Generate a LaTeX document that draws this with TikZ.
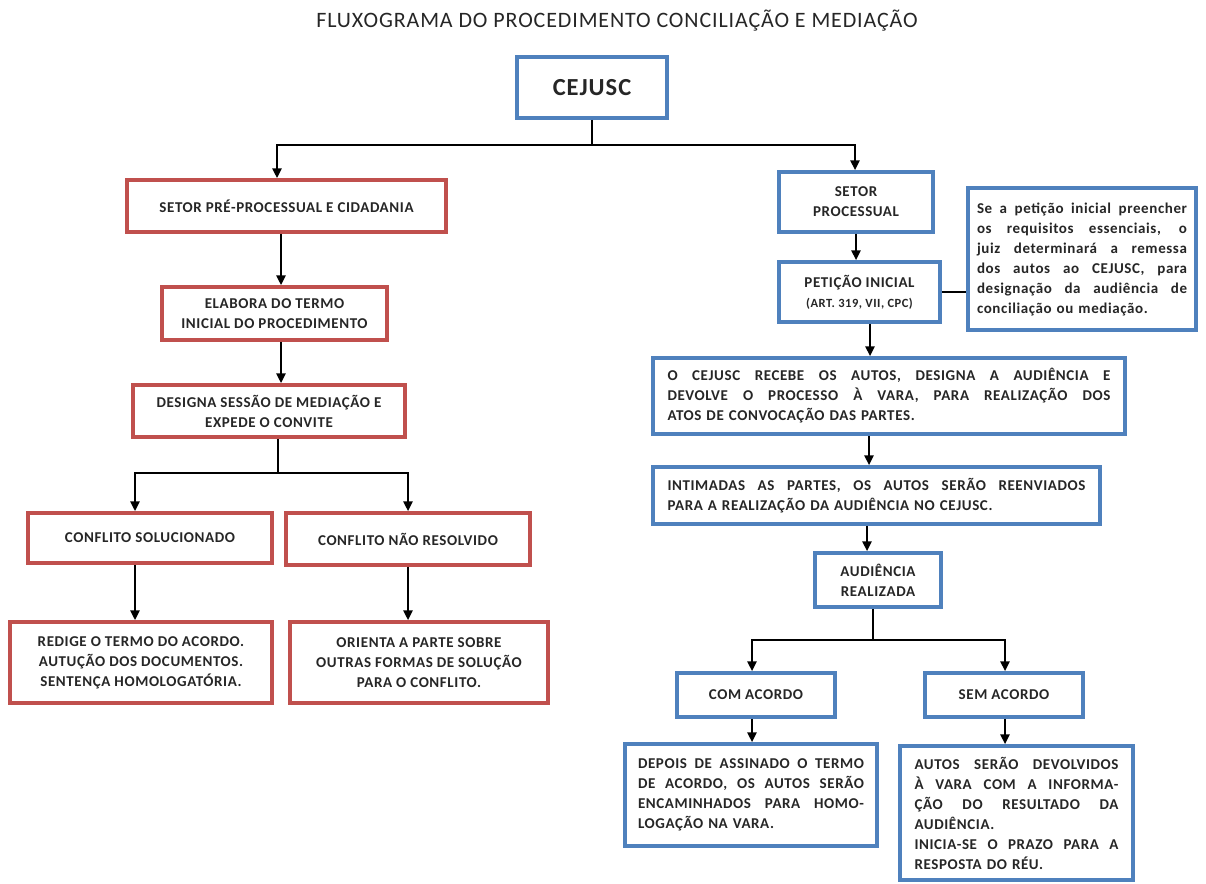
\documentclass[tikz,border=0pt]{standalone}
\usepackage{fontspec}
\setmainfont{Carlito}[LetterSpace=4]
\usetikzlibrary{arrows.meta}
\definecolor{boxred}{HTML}{C0504D}
\definecolor{boxblue}{HTML}{4F81BD}
\definecolor{txt}{HTML}{262626}
\newcommand{\jl}[1]{{\spaceskip=0pt\xspaceskip=0pt\makebox[\hsize][s]{#1}}}
\begin{document}
\begin{tikzpicture}[x=1pt,y=-1pt,
  base/.style={line width=3.5pt, fill=white, inner sep=0pt, align=center, text=txt,
    font=\bfseries\fontsize{15}{20}\selectfont},
  redbox/.style={base, draw=boxred},
  bluebox/.style={base, draw=boxblue},
  jbox/.style={bluebox, align=left, inner xsep=14.5pt, inner ysep=0pt},
  arr/.style={-{Triangle[length=10pt,width=9pt]}, line width=2.6pt},
  link/.style={line width=1.3pt}]
\useasboundingbox (0,0) rectangle (1206,883);
\fill[white] (0,0) rectangle (1206,883);

\node[text=txt, font=\fontsize{22}{26}\selectfont] (title) at (617,21)
  {FLUXOGRAMA DO PROCEDIMENTO CONCILIAÇÃO E MEDIAÇÃO};

\node[bluebox, minimum width=150pt, minimum height=61pt, font=\bfseries\fontsize{24.5}{28}\selectfont] (cejusc) at (592,87.5) {CEJUSC};

% left column
\node[redbox, minimum width=319pt, minimum height=52pt] (pre) at (286.5,206) {SETOR PRÉ-PROCESSUAL E CIDADANIA};
\node[redbox, minimum width=225pt, minimum height=53pt] (elab) at (274.5,313.5) {ELABORA DO TERMO\\INICIAL DO PROCEDIMENTO};
\node[redbox, minimum width=272pt, minimum height=52pt] (desig) at (269,411) {DESIGNA SESSÃO DE MEDIAÇÃO E\\EXPEDE O CONVITE};
\node[redbox, minimum width=244pt, minimum height=50pt] (sol) at (150,538) {CONFLITO SOLUCIONADO};
\node[redbox, minimum width=244pt, minimum height=52pt] (nres) at (408,539) {CONFLITO NÃO RESOLVIDO};
\node[redbox, minimum width=262pt, minimum height=81pt] (red) at (141,662.5) {REDIGE O TERMO DO ACORDO.\\AUTUÇÃO DOS DOCUMENTOS.\\SENTENÇA HOMOLOGATÓRIA.};
\node[redbox, minimum width=258pt, minimum height=81pt] (ori) at (419,662.5) {ORIENTA A PARTE SOBRE\\OUTRAS FORMAS DE SOLUÇÃO\\PARA O CONFLITO.};

% right column
\node[bluebox, minimum width=154pt, minimum height=60pt] (setp) at (856,202) {SETOR\\PROCESSUAL};
\node[bluebox, minimum width=161pt, minimum height=60pt] (pet) at (859.5,292) {PETIÇÃO INICIAL\\{\fontsize{12.5}{18}\selectfont (ART. 319, VII, CPC)}};
\node[jbox, text width=210pt, inner xsep=9pt, minimum height=142pt] (note) at (1082,259)
  {\jl{Se a petição inicial preencher}\\\jl{os requisitos essenciais, o}\\\jl{juiz determinará a remessa}\\\jl{dos autos ao CEJUSC, para}\\\jl{designação da audiência de}\\conciliação ou mediação.};
\node[jbox, text width=443pt, minimum height=76pt] (cej2) at (889,396)
  {\jl{O CEJUSC RECEBE OS AUTOS, DESIGNA A AUDIÊNCIA E}\\\jl{DEVOLVE O PROCESSO À VARA, PARA REALIZAÇÃO DOS}\\ATOS DE CONVOCAÇÃO DAS PARTES.};
\node[jbox, text width=418pt, minimum height=57pt] (int) at (876.5,495.5)
  {\jl{INTIMADAS AS PARTES, OS AUTOS SERÃO REENVIADOS}\\PARA A REALIZAÇÃO DA AUDIÊNCIA NO CEJUSC.};
\node[bluebox, minimum width=126pt, minimum height=54pt] (aud) at (878,580) {AUDIÊNCIA\\REALIZADA};
\node[bluebox, minimum width=158pt, minimum height=44pt] (com) at (756,695) {COM ACORDO};
\node[bluebox, minimum width=158pt, minimum height=44pt] (sem) at (1004,695) {SEM ACORDO};
\node[jbox, text width=226pt, inner xsep=13pt, minimum height=102pt] (dep) at (751,795)
  {\jl{DEPOIS DE ASSINADO O TERMO}\\\jl{DE ACORDO, OS AUTOS SERÃO}\\\jl{ENCAMINHADOS PARA HOMO-}\\LOGAÇÃO NA VARA.};
\node[jbox, text width=204pt, minimum height=134pt] (aut) at (1016.5,813)
  {\jl{AUTOS SERÃO DEVOLVIDOS}\\\jl{À VARA COM A INFORMA-}\\\jl{ÇÃO DO RESULTADO DA}\\AUDIÊNCIA.\\\jl{INICIA-SE O PRAZO PARA A}\\RESPOSTA DO RÉU.};

% junction points
\coordinate (j0) at (592,145);
\coordinate (j1) at (278,473);
\coordinate (j2) at (873,640);
\coordinate (cl) at (281,0);

% connectors
\draw[link] (cejusc.south) -- (j0);
\draw[arr] (j0) -| ([xshift=-4pt]pre.north -| cl);
\draw[arr] (j0) -| ([xshift=-1pt]setp.north);
\draw[arr] (pre.south -| cl) -- (elab.north -| cl);
\draw[arr] (elab.south -| cl) -- (desig.north -| cl);
\draw[link] (desig.south -| j1) -- (j1);
\draw[arr] (j1) -| ([xshift=-15pt]sol.north);
\draw[arr] (j1) -| (nres.north);
\draw[arr] ([xshift=-15pt]sol.south) -- ([xshift=-6pt]red.north);
\draw[arr] (nres.south) -- ([xshift=-11pt]ori.north);

\draw[arr] (setp.south) -- ([xshift=-3.5pt]pet.north);
\draw[link] (pet.east) -- (note.west |- pet.east);
\draw[arr] ([xshift=10.5pt]pet.south) -- ([xshift=-19pt]cej2.north);
\draw[arr] ([xshift=-20pt]cej2.south) -- ([xshift=-7.5pt]int.north);
\draw[arr] ([xshift=-9.5pt]int.south) -- ([xshift=-11pt]aud.north);
\draw[link] ([xshift=-5pt]aud.south) -- (j2);
\draw[arr] (j2) -| ([xshift=-4pt]com.north);
\draw[arr] (j2) -| ([xshift=1pt]sem.north);
\draw[arr] ([xshift=-4pt]com.south) -- ([xshift=1pt]dep.north);
\draw[arr] ([xshift=1pt]sem.south) -- ([xshift=-11.5pt]aut.north);
\end{tikzpicture}
\end{document}
